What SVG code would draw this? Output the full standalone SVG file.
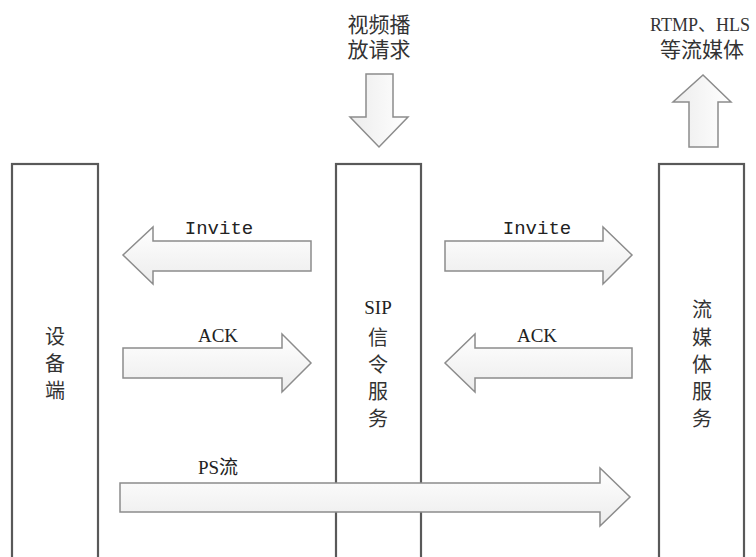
<svg xmlns="http://www.w3.org/2000/svg" width="756" height="557" viewBox="0 0 756 557">
<defs>
<linearGradient id="gv" x1="0" y1="0" x2="0" y2="1">
<stop offset="0" stop-color="#ffffff"/>
<stop offset="1" stop-color="#ececec"/>
</linearGradient>
<linearGradient id="gh" x1="0" y1="0" x2="1" y2="0">
<stop offset="0" stop-color="#ececec"/>
<stop offset="1" stop-color="#ffffff"/>
</linearGradient>
<style>
.col{fill:#fff;stroke:#595959;stroke-width:2.2}
.arr{fill:url(#gv);stroke:#8c8c8c;stroke-width:1.5;stroke-linejoin:miter}
.varr{fill:url(#gh);stroke:#8c8c8c;stroke-width:1.5}
.cn{font-family:"Noto Sans CJK SC",sans-serif;font-size:20px;fill:#333;text-anchor:middle;dominant-baseline:central}
.top{font-family:"Liberation Serif","Noto Sans CJK SC",serif;font-size:21px;fill:#333;text-anchor:middle;dominant-baseline:central}
.lbl{font-family:"Liberation Serif","Noto Sans CJK SC",serif;font-size:19px;fill:#222;text-anchor:middle;dominant-baseline:central}
.mono{font-family:"Liberation Mono",monospace;font-size:19px;fill:#222;text-anchor:middle;dominant-baseline:central}
</style>
</defs>
<rect width="756" height="557" fill="#fff"/>
<g id="device">
<rect class="col" x="12" y="164" width="86" height="410"/>
<text class="cn" x="55" y="335">设</text>
<text class="cn" x="55" y="362">备</text>
<text class="cn" x="55" y="389">端</text>
</g>
<g id="sip">
<rect class="col" x="336" y="164" width="85" height="410"/>
<text class="lbl" x="378" y="307">SIP</text>
<text class="cn" x="378" y="336">信</text>
<text class="cn" x="378" y="363">令</text>
<text class="cn" x="378" y="390">服</text>
<text class="cn" x="378" y="417">务</text>
</g>
<g id="media">
<rect class="col" x="659" y="164" width="85" height="410"/>
<text class="cn" x="702" y="308">流</text>
<text class="cn" x="702" y="336">媒</text>
<text class="cn" x="702" y="363">体</text>
<text class="cn" x="702" y="390">服</text>
<text class="cn" x="702" y="417">务</text>
</g>
<g id="request">
<text class="top" x="379" y="25">视频播</text>
<text class="top" x="379" y="50">放请求</text>
<polygon class="varr" points="366,74 393,74 393,117 408,117 379,147 350,117 366,117"/>
</g>
<g id="output">
<text class="top" x="700" y="25" style="font-size:18px">RTMP、HLS</text>
<text class="top" x="702" y="50">等流媒体</text>
<polygon class="varr" points="689,147 718,147 718,102 731,102 703,75 673,102 689,102"/>
</g>
<g id="connectors">
<polygon class="arr" points="311,241 153,241 153,227 123,255 153,284 153,271 311,271"/>
<text class="mono" x="219" y="229">Invite</text>
<polygon class="arr" points="445,241 603,241 603,227 632,255 603,284 603,271 445,271"/>
<text class="mono" x="537" y="229">Invite</text>
<polygon class="arr" points="123,348 282,348 282,334 311,363 282,392 282,378 123,378"/>
<text class="lbl" x="218" y="335">ACK</text>
<polygon class="arr" points="632,348 475,348 475,334 445,363 475,392 475,378 632,378"/>
<text class="lbl" x="537" y="335">ACK</text>
<polygon class="arr" points="120,483 600,483 600,468 630,497 600,526 600,512 120,512"/>
<text class="lbl" x="218" y="467">PS流</text>
</g>
</svg>
